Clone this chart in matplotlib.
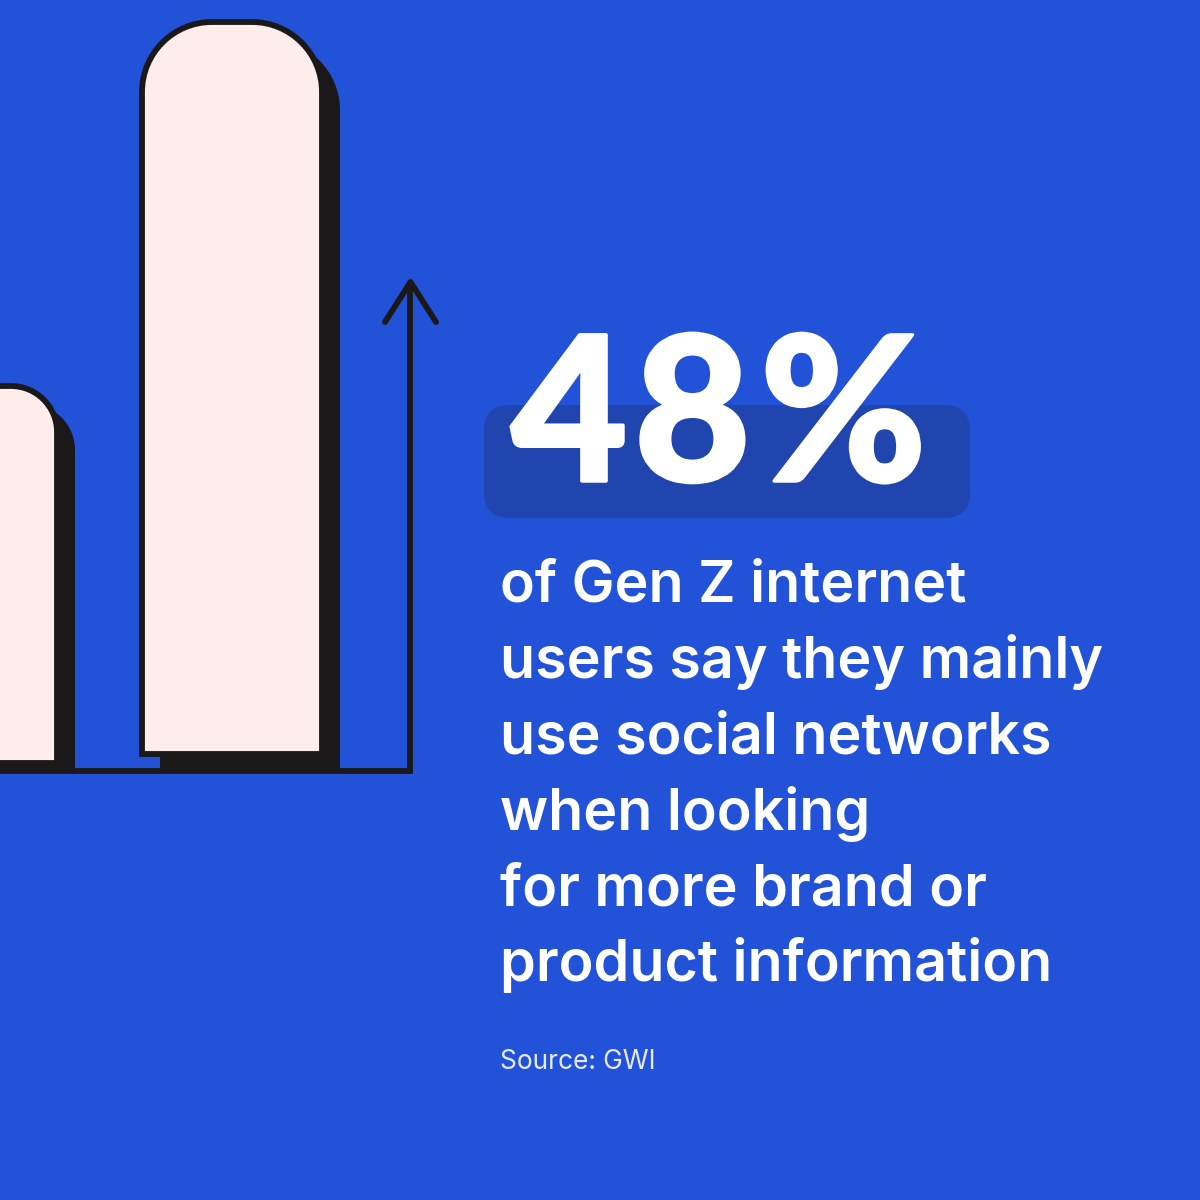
import matplotlib
matplotlib.use('Agg')
import matplotlib.pyplot as plt
from matplotlib.patches import FancyBboxPatch, PathPatch
from matplotlib.path import Path
import matplotlib.patheffects as pe

BLUE = '#2252d8'
PILL = '#2145ae'
INK = '#1a1818'
BAR = '#feedeb'

# bars, in picture units above the axis line
bar_lefts = [-125, 142]
bar_rights = [57, 322]
bar_heights = [385, 749]
bar_radius = [46, 70]

value_digits = ['4', '8', '%']
value_x = [511, 634, 760]
text_lines = [
    'of Gen Z internet',
    'users say they mainly',
    'use social networks',
    'when looking',
    'for more brand or',
    'product information',
]
line_y = [602, 678, 754, 830, 905, 981]
source = 'Source: GWI'

BASE_Y = 771


def top_rounded(x0, x1, top, bottom, r):
    '''
    Контур столбца со скруглённым верхом
    '''
    k = 0.5523 * r
    verts = [(x0, bottom), (x0, top + r),
             (x0, top + r - k), (x0 + r - k, top), (x0 + r, top),
             (x1 - r, top),
             (x1 - r + k, top), (x1, top + r - k), (x1, top + r),
             (x1, bottom), (x0, bottom)]
    codes = [Path.MOVETO, Path.LINETO,
             Path.CURVE4, Path.CURVE4, Path.CURVE4,
             Path.LINETO,
             Path.CURVE4, Path.CURVE4, Path.CURVE4,
             Path.LINETO, Path.CLOSEPOLY]
    return Path(verts, codes)


fig = plt.figure(figsize=(12, 12), dpi=100, facecolor=BLUE)
ax = fig.add_axes([0, 0, 1, 1])
ax.set_xlim(0, 1200)
ax.set_ylim(1200, 0)
ax.axis('off')

# axis line with arrow
ax.plot([-5, 410, 410], [BASE_Y, BASE_Y, 284], color=INK, lw=4.2, solid_joinstyle='miter', zorder=1)
ax.plot([385, 410.5, 436], [322, 282, 322], color=INK, lw=4.2, solid_capstyle='round',
        solid_joinstyle='round', zorder=1)

for x0, x1, h, r in zip(bar_lefts, bar_rights, bar_heights, bar_radius):
    top = BASE_Y - h
    bottom = BASE_Y - 17 if x0 > 0 else BASE_Y - 8
    # shadow
    ax.add_patch(PathPatch(top_rounded(x0 + 18, x1 + 18, top + 18, BASE_Y, r),
                           fc=INK, ec='none', zorder=2))
    ax.add_patch(PathPatch(top_rounded(x0, x1, top, bottom, r),
                           fc=BAR, ec=INK, lw=4.2, joinstyle='miter', zorder=3))

ax.add_patch(FancyBboxPatch((484 + 26, 405 + 26), 486 - 52, 113 - 52,
                            boxstyle='round,pad=26,rounding_size=26',
                            fc=PILL, ec='none', zorder=1))

thick = [pe.withStroke(linewidth=2.5, foreground='white')]
for d, x in zip(value_digits, value_x):
    ax.text(x, 481, d, color='white', fontsize=145, fontfamily='Lato', fontweight='black',
            ha='left', va='baseline', zorder=4, path_effects=thick)

for line, y in zip(text_lines, line_y):
    ax.text(500, y, line, color='white', fontsize=41.3, fontfamily='Inter', fontweight='semibold',
            ha='left', va='baseline', zorder=4)

ax.text(500, 1069, source, color='#e6ebfa', fontsize=18.9, fontfamily='Inter', fontweight='normal',
        ha='left', va='baseline', zorder=4)

fig.savefig('out.png', dpi=100, facecolor=BLUE)
